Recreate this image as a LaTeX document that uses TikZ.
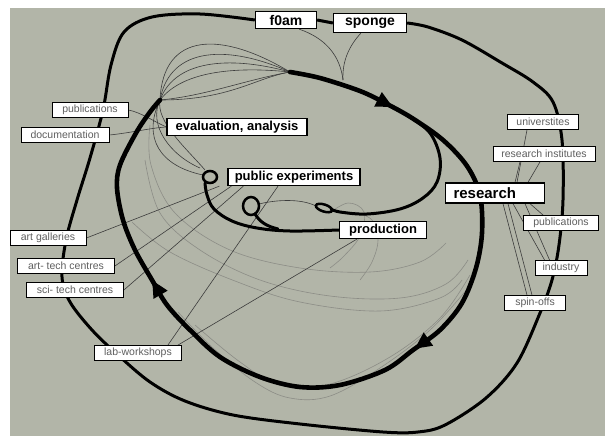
\documentclass[tikz,border=0pt]{standalone}
\usepackage{fontspec}
\setmainfont{Liberation Sans}
\usetikzlibrary{calc,arrows.meta,decorations.markings}
\definecolor{paper}{RGB}{178,181,168}
\definecolor{wire}{RGB}{60,60,60}
\definecolor{ghost}{RGB}{140,141,134}
\definecolor{labeltext}{RGB}{95,95,95}
\pgfdeclarelayer{bg}
\pgfdeclarelayer{wires}
\pgfsetlayers{bg,wires,main}

\begin{document}
\begin{tikzpicture}[x=1pt, y=-1pt,
    bigbox/.style={draw, line width=1.3pt, fill=white, inner sep=0pt, minimum height=17pt,
      font=\fontsize{13}{13}\selectfont\bfseries},
    smallbox/.style={draw, line width=0.8pt, fill=white, inner sep=0pt, minimum height=15pt,
      text=labeltext, font=\fontsize{10.5}{10.5}\selectfont},
    loopline/.style={line width=4.6pt, line cap=round, line join=round},
    bendline/.style={line width=3pt, line cap=round, line join=round},
    wireline/.style={wire, line width=0.6pt},
    ghostline/.style={ghost, line width=0.6pt},
    flow/.style={postaction={decorate, decoration={markings,
      mark=at position 0.118 with {\arrow{Triangle[length=17pt,width=15pt]}},
      mark=at position 0.447 with {\arrow{Triangle[length=17pt,width=15pt]}},
      mark=at position 0.785 with {\arrow{Triangle[length=17pt,width=15pt]}}}}}]
  % Paper
  \begin{pgfonlayer}{bg}
    \fill[white] (0,0) rectangle (605,436);
    \fill[paper] (10,8) rectangle (605,436);
  \end{pgfonlayer}
  \useasboundingbox (0,0) rectangle (605,436);

  % Main labels
  \node[bigbox, minimum width=61pt, font=\fontsize{14}{14}\selectfont\bfseries] (f0am) at (286,20) {f0am};
  \node[bigbox, minimum width=73pt, minimum height=19pt, font=\fontsize{14}{14}\selectfont\bfseries] (sponge) at (370,23) {sponge};
  \node[bigbox, minimum width=140pt] (eval) at (237,127) {evaluation, analysis};
  \node[bigbox, minimum width=132pt] (pubexp) at (294,177) {public experiments};
  \node[bigbox, minimum height=20pt, inner xsep=8pt, text width=83pt, align=left,
    font=\fontsize{15}{15}\selectfont\bfseries] (research) at (495,193) {research};
  \node[bigbox, minimum width=87pt] (production) at (383,230) {production};

  % Side labels
  \node[smallbox, minimum width=76pt] (pubL) at (90,110) {publications};
  \node[smallbox, minimum width=88pt] (doc) at (65,135) {documentation};
  \node[smallbox, minimum width=76pt] (artgal) at (48,238) {art galleries};
  \node[smallbox, minimum width=97pt] (arttech) at (66,266) {art- tech centres};
  \node[smallbox, minimum width=97pt] (scitech) at (75,290) {sci- tech centres};
  \node[smallbox, minimum width=87pt] (lab) at (138,353) {lab-workshops};
  \node[smallbox, minimum width=71pt] (univ) at (543,122) {universtites};
  \node[smallbox, minimum width=102pt] (resinst) at (544,154) {research institutes};
  \node[smallbox, minimum width=75pt] (pubR) at (561,223) {publications};
  \node[smallbox, minimum width=52pt] (industry) at (561,268) {industry};
  \node[smallbox, minimum width=61pt] (spinoffs) at (535,303) {spin-offs};

  % Junctions
  \coordinate (fanL) at (160,100);
  \coordinate (fanR) at (290,72);
  \coordinate (fork) at (410,117);
  \coordinate (meet) at (343,80);
  \coordinate (curlA) at (210,177);
  \coordinate (curlB) at (251,206);
  \coordinate (tip) at (324,208);

  \begin{pgfonlayer}{wires}
    % Faint traces
    \draw[ghostline] plot[smooth, tension=0.6] coordinates {(150,125) (151,165) (175,213) (230,250) (300,268) (370,272) (420,262) (446,243)};
    \draw[ghostline] plot[smooth, tension=0.6] coordinates {(145,160) (160,213) (200,250) (260,280) (330,296) (400,298) (446,284) (468,260)};
    \draw[ghostline] plot[smooth, tension=0.6] coordinates {(132,222) (170,252) (235,281) (300,302) (380,311) (440,298) (462,280)};
    \draw[ghostline] plot[smooth, tension=0.6] coordinates {(178,312) (212,347) (255,382) (290,398) (330,396) (380,368) (430,330) (468,288)};
    \draw[ghostline] plot[smooth, tension=0.6] coordinates {(195,325) (240,362) (280,385) (330,384) (390,357) (440,318) (470,275)};
    \draw[ghostline] plot[smooth, tension=0.6] coordinates {(328,214) (348,203) (364,212) (360,236) (344,256) (330,268)};
    \draw[ghostline] plot[smooth, tension=0.6] coordinates {(355,212) (372,220) (378,240) (372,262) (360,280)};

    % Fan between the two ends of the loop
    \draw[wireline] (fanL) .. controls (163,31) and (222,31) .. (fanR);
    \draw[wireline] (fanL) .. controls (170,45) and (230,45) .. (fanR);
    \draw[wireline] (fanL) .. controls (176,57) and (236,57) .. (fanR);
    \draw[wireline] (fanL) .. controls (184,69) and (242,67) .. (fanR);
    \draw[wireline] (fanL) .. controls (205,96) and (245,80) .. (fanR);
    \draw[wireline] (fanL) .. controls (230,100) and (255,78) .. (fanR);
    \draw[wireline] (fanL) .. controls (148,125) and (170,155) .. (200,168);
    \draw[wireline] (fanL) .. controls (142,138) and (160,166) .. (203,175);
    \draw[wireline] (fanL) .. controls (156,122) and (186,148) .. (205,170);

    % f0am and sponge
    \draw[wireline] ($(f0am.south east)+(-18,0)$) .. controls (325,38) and (340,55) .. (meet);
    \draw[wireline] ($(sponge.south west)+(28,0)$) .. controls (350,45) and (342,60) .. (meet);

    % Left labels
    \draw[wireline] (pubL.east) .. controls (140,112) and (155,122) .. (eval.west);
    \draw[wireline] (doc.east) .. controls (130,133) and (150,128) .. (eval.west);
    \draw[wireline] (artgal.east) -- ($(pubexp.south west)+(-8,0)$);
    \draw[wireline] (arttech.east) -- ($(pubexp.south west)+(4,0)$);
    \draw[wireline] (scitech.east) -- ($(pubexp.south west)+(16,0)$);
    \draw[wireline] ($(lab.north east)+(-14,0)$) -- ($(pubexp.south)+(-16,0)$);
    \draw[wireline] ($(lab.north east)+(-4,0)$) -- ($(production.south west)+(18,0)$);
    \draw[wireline] (316,206) .. controls (300,198) and (275,200) .. (259,204);

    % Right labels
    \draw[wireline] ($(univ.south)+(-16,0)$) -- ($(research.north)+(22,0)$);
    \draw[wireline] ($(resinst.south)+(-24,0)$) -- ($(research.north)+(20,0)$);
    \draw[wireline] ($(resinst.south)+(-4,0)$) -- ($(research.north)+(33,0)$);
    \draw[wireline] ($(research.south)+(8,0)$) -- ($(spinoffs.north)+(-8,0)$);
    \draw[wireline] ($(research.south)+(13,0)$) -- ($(spinoffs.north)+(-3,0)$);
    \draw[wireline] ($(research.south)+(18,0)$) -- ($(industry.north west)+(10,0)$);
    \draw[wireline] ($(research.south)+(30,0)$) -- ($(industry.north west)+(15,0)$);
    \draw[wireline] ($(research.south)+(35,0)$) -- ($(pubR.north west)+(20,0)$);

    % Outer loop
    \draw[line width=3pt, line join=round] (f0am.east) -- (sponge.west);
    \draw[line width=3pt, line join=round] plot[smooth, tension=0.55] coordinates {(f0am.west) (200,14) (152,17) (124,32) (111,65) (103,110) (90,158) (77,200) (66,240) (62,277) (70,302) (92,330) (118,355) (150,382) (185,401) (233,415) (300,424) (383,432) (418,432) (445,425) (486,398) (517,363) (540,313) (552,280) (559,245) (563,200) (562,140) (553,102) (533,82) (502,63) (462,40) (428,27) (sponge.east)};

    % Main loop
    \draw[loopline, flow] plot[smooth, tension=0.55] coordinates {(fanR) (320,78) (360,91) (385,103) (412,118) (443,140) (467,166) (480,195) (482,233) (476,268) (462,303) (440,330) (413,350) (385,370) (340,385) (300,387) (260,377) (220,357) (190,330) (167,305) (152,280) (135,250) (123,220) (117,188) (120,165) (136,133) (150,112) (fanL)};

    % Inner loop back to the tip
    \draw[bendline] plot[smooth, tension=0.6] coordinates {(fork) (430,133) (440,158) (437,182) (423,198) (400,209) (367,214) (340,212) (331,209)};
    \draw[line width=2.5pt] (tip) ellipse [x radius=8.5pt, y radius=3.5pt, rotate=-18];

    % Curls from public experiments to production
    \draw[line width=2.5pt] (curlA) ellipse [x radius=7pt, y radius=6pt];
    \draw[line width=2.5pt] (curlB) ellipse [x radius=8pt, y radius=9pt];
    \draw[bendline] plot[smooth, tension=0.6] coordinates {(205,183) (207,195) (214,209) (232,221) (257,228) (290,231) (production.west)};
    \draw[bendline] (255,214) .. controls (260,222) and (266,226) .. (278,229);
  \end{pgfonlayer}
\end{tikzpicture}
\end{document}
